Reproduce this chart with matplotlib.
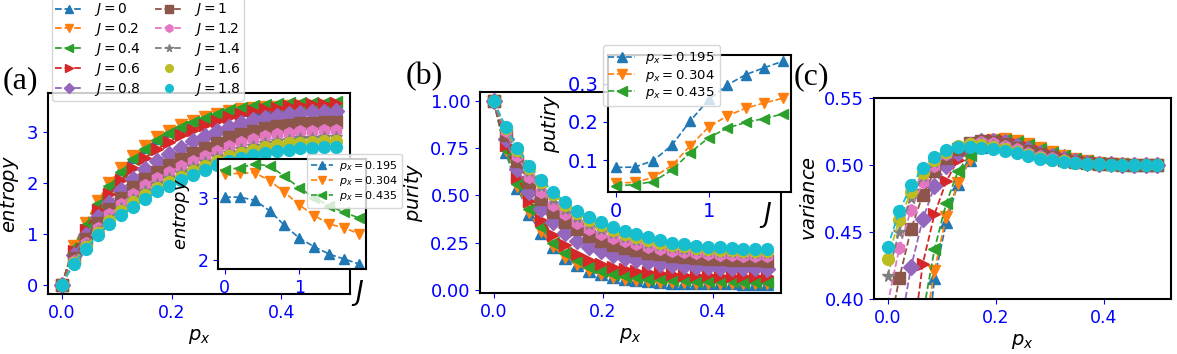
import numpy as np
from matplotlib import pyplot as plt
from matplotlib.lines import Line2D

# datos
px = np.linspace(0, 0.5, 24)
J_vals = [0, 0.2, 0.4, 0.6, 0.8, 1.0, 1.2, 1.4, 1.6, 1.8]
J_labels = ["0", "0.2", "0.4", "0.6", "0.8", "1", "1.2", "1.4", "1.6", "1.8"]
px_cuts = ["0.195", "0.304", "0.435"]

entropy = [
    [0, 0.74, 1.20, 1.62, 1.98, 2.27, 2.50, 2.70, 2.87, 3.01, 3.12, 3.21, 3.28, 3.34, 3.39, 3.42, 3.44, 3.45, 3.46, 3.46, 3.46, 3.46, 3.45, 3.45],
    [0, 0.76, 1.22, 1.64, 2.00, 2.29, 2.52, 2.72, 2.89, 3.02, 3.13, 3.22, 3.29, 3.35, 3.41, 3.44, 3.46, 3.48, 3.49, 3.50, 3.50, 3.51, 3.51, 3.51],
    [0, 0.72, 1.17, 1.58, 1.93, 2.22, 2.46, 2.66, 2.83, 2.97, 3.09, 3.19, 3.27, 3.35, 3.42, 3.46, 3.50, 3.53, 3.55, 3.56, 3.56, 3.57, 3.57, 3.58],
    [0, 0.66, 1.08, 1.46, 1.78, 2.05, 2.29, 2.49, 2.66, 2.80, 2.93, 3.04, 3.13, 3.22, 3.29, 3.35, 3.40, 3.44, 3.47, 3.50, 3.53, 3.54, 3.55, 3.56],
    [0, 0.58, 0.97, 1.32, 1.61, 1.86, 2.08, 2.27, 2.43, 2.56, 2.69, 2.81, 2.91, 3.01, 3.10, 3.17, 3.23, 3.27, 3.31, 3.34, 3.36, 3.38, 3.39, 3.40],
    [0, 0.52, 0.89, 1.21, 1.48, 1.71, 1.91, 2.08, 2.22, 2.35, 2.47, 2.58, 2.68, 2.78, 2.89, 2.96, 3.02, 3.07, 3.11, 3.14, 3.17, 3.18, 3.19, 3.20],
    [0, 0.47, 0.82, 1.12, 1.38, 1.59, 1.78, 1.95, 2.09, 2.21, 2.32, 2.43, 2.53, 2.63, 2.72, 2.80, 2.86, 2.91, 2.95, 2.98, 3.01, 3.02, 3.03, 3.04],
    [0, 0.45, 0.78, 1.06, 1.30, 1.50, 1.68, 1.84, 1.97, 2.09, 2.20, 2.31, 2.40, 2.50, 2.58, 2.66, 2.72, 2.77, 2.81, 2.84, 2.87, 2.88, 2.89, 2.90],
    [0, 0.43, 0.75, 1.02, 1.25, 1.45, 1.62, 1.77, 1.90, 2.01, 2.12, 2.23, 2.33, 2.43, 2.52, 2.59, 2.65, 2.70, 2.74, 2.77, 2.78, 2.80, 2.81, 2.81],
    [0, 0.41, 0.70, 0.97, 1.19, 1.37, 1.53, 1.69, 1.83, 1.93, 2.05, 2.16, 2.25, 2.34, 2.42, 2.49, 2.55, 2.59, 2.62, 2.65, 2.68, 2.69, 2.70, 2.71],
]

purity = [
    [1.0, 0.73, 0.54, 0.40, 0.30, 0.225, 0.17, 0.13, 0.10, 0.081, 0.068, 0.058, 0.051, 0.045, 0.040, 0.038, 0.036, 0.035, 0.034, 0.034, 0.033, 0.032, 0.032, 0.031],
    [1.0, 0.74, 0.55, 0.41, 0.31, 0.23, 0.175, 0.135, 0.104, 0.082, 0.069, 0.059, 0.052, 0.046, 0.042, 0.040, 0.039, 0.038, 0.037, 0.037, 0.036, 0.036, 0.035, 0.035],
    [1.0, 0.74, 0.56, 0.43, 0.33, 0.25, 0.195, 0.155, 0.123, 0.099, 0.084, 0.073, 0.065, 0.059, 0.055, 0.052, 0.050, 0.048, 0.046, 0.045, 0.044, 0.043, 0.043, 0.042],
    [1.0, 0.77, 0.60, 0.47, 0.37, 0.29, 0.235, 0.19, 0.16, 0.139, 0.122, 0.109, 0.100, 0.092, 0.086, 0.082, 0.079, 0.077, 0.076, 0.075, 0.074, 0.073, 0.072, 0.072],
    [1.0, 0.80, 0.64, 0.52, 0.43, 0.36, 0.30, 0.26, 0.228, 0.203, 0.184, 0.169, 0.156, 0.146, 0.138, 0.131, 0.126, 0.122, 0.119, 0.117, 0.115, 0.114, 0.113, 0.112],
    [1.0, 0.82, 0.68, 0.57, 0.48, 0.41, 0.36, 0.32, 0.285, 0.259, 0.238, 0.221, 0.208, 0.197, 0.187, 0.180, 0.174, 0.169, 0.165, 0.162, 0.159, 0.157, 0.155, 0.154],
    [1.0, 0.84, 0.71, 0.60, 0.52, 0.45, 0.40, 0.355, 0.323, 0.297, 0.275, 0.256, 0.241, 0.228, 0.216, 0.207, 0.200, 0.194, 0.189, 0.186, 0.184, 0.181, 0.180, 0.178],
    [1.0, 0.85, 0.73, 0.63, 0.55, 0.48, 0.43, 0.385, 0.351, 0.324, 0.301, 0.281, 0.264, 0.249, 0.236, 0.226, 0.218, 0.211, 0.206, 0.202, 0.199, 0.196, 0.194, 0.193],
    [1.0, 0.86, 0.74, 0.645, 0.57, 0.505, 0.45, 0.405, 0.37, 0.342, 0.318, 0.297, 0.279, 0.263, 0.250, 0.239, 0.230, 0.223, 0.217, 0.212, 0.209, 0.206, 0.204, 0.203],
    [1.0, 0.865, 0.751, 0.657, 0.583, 0.520, 0.464, 0.42, 0.387, 0.359, 0.335, 0.313, 0.294, 0.277, 0.262, 0.250, 0.241, 0.234, 0.228, 0.224, 0.221, 0.218, 0.216, 0.214],
]

variance = [
    [0.20, 0.24, 0.29, 0.335, 0.4154, 0.4573, 0.4860, 0.5034, 0.5135, 0.5180, 0.5190, 0.5180, 0.5158, 0.5128, 0.5098, 0.5071, 0.5048, 0.5031, 0.5018, 0.5009, 0.5004, 0.5002, 0.5001, 0.5000],
    [0.22, 0.26, 0.31, 0.367, 0.4212, 0.4615, 0.4865, 0.5039, 0.5140, 0.5183, 0.5192, 0.5180, 0.5157, 0.5127, 0.5097, 0.5070, 0.5047, 0.5030, 0.5018, 0.5009, 0.5004, 0.5002, 0.5001, 0.5000],
    [0.24, 0.28, 0.33, 0.388, 0.4371, 0.4715, 0.4952, 0.5076, 0.5150, 0.5185, 0.5190, 0.5175, 0.5150, 0.5120, 0.5090, 0.5064, 0.5043, 0.5027, 0.5016, 0.5008, 0.5004, 0.5002, 0.5000, 0.5000],
    [0.28, 0.31, 0.359, 0.4262, 0.4633, 0.4877, 0.5039, 0.5130, 0.5175, 0.5188, 0.5180, 0.5160, 0.5133, 0.5104, 0.5077, 0.5055, 0.5037, 0.5023, 0.5013, 0.5007, 0.5003, 0.5001, 0.5000, 0.5000],
    [0.330, 0.374, 0.4237, 0.4595, 0.4840, 0.4989, 0.5090, 0.5152, 0.5180, 0.5182, 0.5168, 0.5145, 0.5118, 0.5091, 0.5066, 0.5046, 0.5030, 0.5018, 0.5010, 0.5005, 0.5002, 0.5001, 0.5000, 0.5000],
    [0.370, 0.4154, 0.4520, 0.4777, 0.4952, 0.5050, 0.5120, 0.5163, 0.5178, 0.5172, 0.5155, 0.5130, 0.5104, 0.5079, 0.5057, 0.5039, 0.5025, 0.5015, 0.5008, 0.5004, 0.5002, 0.5001, 0.5000, 0.5000],
    [0.396, 0.4379, 0.4665, 0.4870, 0.4995, 0.5080, 0.5135, 0.5165, 0.5172, 0.5162, 0.5142, 0.5118, 0.5093, 0.5070, 0.5050, 0.5034, 0.5022, 0.5013, 0.5007, 0.5003, 0.5001, 0.5000, 0.5000, 0.5000],
    [0.4172, 0.4503, 0.4755, 0.4915, 0.5025, 0.5095, 0.5140, 0.5162, 0.5165, 0.5152, 0.5132, 0.5108, 0.5085, 0.5063, 0.5045, 0.5030, 0.5020, 0.5012, 0.5006, 0.5003, 0.5001, 0.5000, 0.5000, 0.5000],
    [0.4299, 0.4590, 0.4800, 0.4940, 0.5040, 0.5100, 0.5140, 0.5155, 0.5150, 0.5135, 0.5118, 0.5097, 0.5075, 0.5055, 0.5040, 0.5027, 0.5017, 0.5010, 0.5005, 0.5003, 0.5001, 0.5000, 0.5000, 0.5000],
    [0.4386, 0.4653, 0.4847, 0.4977, 0.5059, 0.5109, 0.5135, 0.5137, 0.5130, 0.5119, 0.5106, 0.5086, 0.5066, 0.5048, 0.5034, 0.5022, 0.5014, 0.5008, 0.5004, 0.5002, 0.5001, 0.5000, 0.5000, 0.5000],
]

# cortes en p_x (insets) vs J
entropy_cut = [
    [3.02, 3.02, 2.97, 2.80, 2.56, 2.35, 2.21, 2.09, 2.01, 1.93],
    [3.39, 3.41, 3.42, 3.29, 3.10, 2.89, 2.72, 2.58, 2.52, 2.42],
    [3.46, 3.50, 3.56, 3.53, 3.36, 3.17, 3.01, 2.88, 2.77, 2.68],
]
purity_cut = [
    [0.081, 0.082, 0.099, 0.139, 0.203, 0.259, 0.297, 0.324, 0.342, 0.359],
    [0.040, 0.042, 0.055, 0.086, 0.138, 0.187, 0.216, 0.236, 0.250, 0.262],
    [0.033, 0.036, 0.044, 0.074, 0.120, 0.159, 0.184, 0.199, 0.209, 0.221],
]

colores = plt.rcParams['axes.prop_cycle'].by_key()['color']
marcadores = ['^', 'v', '<', '>', 'D', 's', 'h', '*', 'o', 'o']
marc_cut = ['^', 'v', '<']

fig = plt.figure(figsize=(11.77, 3.54), dpi=100)
ax_a = fig.add_axes([0.0408, 0.1695, 0.2566, 0.5678])
ins_a = fig.add_axes([0.1852, 0.2401, 0.1257, 0.3107])
ax_b = fig.add_axes([0.4078, 0.1723, 0.2557, 0.5678])
ins_b = fig.add_axes([0.5166, 0.4576, 0.1555, 0.387])
ax_c = fig.add_axes([0.7426, 0.1554, 0.2523, 0.5678])

# paneles principales
for ax, datos in [(ax_a, entropy), (ax_b, purity), (ax_c, variance)]:
    for k in range(len(J_vals)):
        ax.plot(px, datos[k], '--', color=colores[k], marker=marcadores[k], ms=8.5, lw=1.3)
    ax.set_xticks([0, 0.2, 0.4])
    ax.set_xlabel('$p_x$', fontsize=14)

ax_a.set_yticks([0, 1, 2, 3])
ax_a.set_ylabel('$entropy$', fontsize=14)
ax_b.set_yticks([0, 0.25, 0.5, 0.75, 1.0])
ax_b.set_yticklabels(['0.00', '0.25', '0.50', '0.75', '1.00'])
ax_b.set_ylabel('$purity$', fontsize=14)
ax_c.set_ylim(0.40, 0.55)
ax_c.set_yticks([0.40, 0.45, 0.50, 0.55])
ax_c.set_yticklabels(['0.40', '0.45', '0.50', '0.55'])
ax_c.set_ylabel('$variance$', fontsize=14)

# leyenda de J (sin linea para 1.6 y 1.8)
handles = []
for k in range(len(J_vals)):
    ls = 'none' if k >= 8 else '--'
    handles.append(Line2D([], [], ls=ls, color=colores[k], marker=marcadores[k], ms=5.5, lw=1.3))
ax_a.legend(handles, ['$J=' + s + '$' for s in J_labels], ncol=2, fontsize=10,
            loc='lower left', bbox_to_anchor=(0.013, 0.96), borderaxespad=0,
            labelspacing=0.2, columnspacing=1.0, borderpad=0.25)

# insets
for ins, datos in [(ins_a, entropy_cut), (ins_b, purity_cut)]:
    for k in range(3):
        ins.plot(J_vals, datos[k], '--', color=colores[k], marker=marc_cut[k], ms=7, lw=1.2,
                 label='$p_x=' + px_cuts[k] + '$')
    ins.set_xticks([0, 1])

ins_a.set_yticks([2, 3])
ins_a.set_ylabel('$entropy$', fontsize=13)
ins_a.set_xlabel('$J$', fontsize=19)
ins_a.xaxis.set_label_coords(0.946, -0.08)
ins_a.legend(fontsize=8, loc='upper left', bbox_to_anchor=(0.60, 1.045), borderaxespad=0,
             labelspacing=0.12, handletextpad=0.5, markerscale=0.8)

ins_b.set_yticks([0.1, 0.2, 0.3])
ins_b.set_ylabel('$putiry$', fontsize=14)
ins_b.set_xlabel('$J$', fontsize=19)
ins_b.xaxis.set_label_coords(0.863, -0.058)
ins_b.legend(fontsize=9.5, loc='upper left', bbox_to_anchor=(-0.027, 1.073), borderaxespad=0,
             labelspacing=0.1)

for ax in [ax_a, ax_b, ax_c, ins_a, ins_b]:
    ax.tick_params(colors='blue', labelsize=12.5)
    for sp in ax.spines.values():
        sp.set_linewidth(1.5)
for ax in [ax_a, ax_b, ax_c]:
    ax.tick_params(axis='y', labelsize=13)
ins_a.tick_params(labelsize=12.5)
ins_b.tick_params(labelsize=14)

fig.text(0.002, 0.771, '(a)', family='Liberation Serif', fontsize=23, va='center')
fig.text(0.345, 0.785, '(b)', family='Liberation Serif', fontsize=23, va='center')
fig.text(0.674, 0.782, '(c)', family='Liberation Serif', fontsize=23, va='center')

fig.savefig('out.png', dpi=100)
